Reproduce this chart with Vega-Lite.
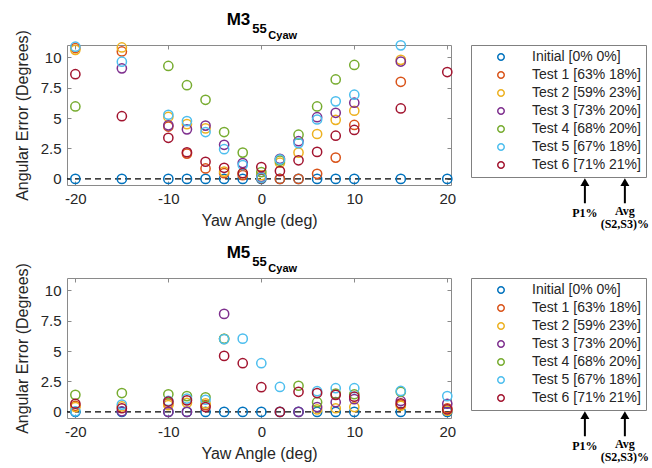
{
  "$schema": "https://vega.github.io/schema/vega-lite/v6.json",
  "autosize": {"type": "pad"},
  "padding": {"left": 13, "top": 10, "right": 2, "bottom": 2},
  "background": "white",
  "config": {
    "view": {"stroke": "#8a8a8a", "strokeWidth": 1},
    "axis": {"grid": false, "domain": false, "tickColor": "#8a8a8a", "tickSize": -4, "labelFont": "Liberation Sans", "titleFont": "Liberation Sans", "labelColor": "#262626", "titleColor": "#262626", "labelFontSize": 15, "titleFontSize": 16, "titleFontWeight": "normal"},
    "legend": {"orient": "right", "offset": 19, "strokeColor": "#808080", "padding": 5, "labelFont": "Liberation Sans", "labelFontSize": 14, "labelColor": "#262626", "rowPadding": 4, "symbolType": "circle", "symbolSize": 42, "symbolStrokeWidth": 1.5, "symbolOffset": 18, "labelOffset": 24, "titlePadding": 0}
  },
  "datasets": {
    "m3": [
      {"yaw": -20, "err": 0, "series": "Initial [0% 0%]"},
      {"yaw": -15, "err": 0, "series": "Initial [0% 0%]"},
      {"yaw": -10, "err": 0, "series": "Initial [0% 0%]"},
      {"yaw": -8, "err": 0, "series": "Initial [0% 0%]"},
      {"yaw": -6, "err": 0, "series": "Initial [0% 0%]"},
      {"yaw": -4, "err": 0, "series": "Initial [0% 0%]"},
      {"yaw": -2, "err": 0, "series": "Initial [0% 0%]"},
      {"yaw": 0, "err": 0, "series": "Initial [0% 0%]"},
      {"yaw": 2, "err": 0, "series": "Initial [0% 0%]"},
      {"yaw": 4, "err": 0, "series": "Initial [0% 0%]"},
      {"yaw": 6, "err": 0, "series": "Initial [0% 0%]"},
      {"yaw": 8, "err": 0, "series": "Initial [0% 0%]"},
      {"yaw": 10, "err": 0, "series": "Initial [0% 0%]"},
      {"yaw": 15, "err": 0, "series": "Initial [0% 0%]"},
      {"yaw": 20, "err": 0, "series": "Initial [0% 0%]"},
      {"yaw": -20, "err": 10.75, "series": "Test 1 [63% 18%]"},
      {"yaw": -15, "err": 10.47, "series": "Test 1 [63% 18%]"},
      {"yaw": -10, "err": 4.3, "series": "Test 1 [63% 18%]"},
      {"yaw": -8, "err": 2.08, "series": "Test 1 [63% 18%]"},
      {"yaw": -6, "err": 0.86, "series": "Test 1 [63% 18%]"},
      {"yaw": -4, "err": 0.47, "series": "Test 1 [63% 18%]"},
      {"yaw": -2, "err": 0.31, "series": "Test 1 [63% 18%]"},
      {"yaw": 0, "err": 0.05, "series": "Test 1 [63% 18%]"},
      {"yaw": 2, "err": 0.0, "series": "Test 1 [63% 18%]"},
      {"yaw": 4, "err": 0.0, "series": "Test 1 [63% 18%]"},
      {"yaw": 6, "err": 0.42, "series": "Test 1 [63% 18%]"},
      {"yaw": 8, "err": 1.75, "series": "Test 1 [63% 18%]"},
      {"yaw": 10, "err": 4.43, "series": "Test 1 [63% 18%]"},
      {"yaw": 15, "err": 7.98, "series": "Test 1 [63% 18%]"},
      {"yaw": -20, "err": 10.6, "series": "Test 2 [59% 23%]"},
      {"yaw": -15, "err": 10.8, "series": "Test 2 [59% 23%]"},
      {"yaw": -10, "err": 5.1, "series": "Test 2 [59% 23%]"},
      {"yaw": -8, "err": 4.5, "series": "Test 2 [59% 23%]"},
      {"yaw": -6, "err": 4.15, "series": "Test 2 [59% 23%]"},
      {"yaw": -4, "err": 0.6, "series": "Test 2 [59% 23%]"},
      {"yaw": -2, "err": 0.45, "series": "Test 2 [59% 23%]"},
      {"yaw": 0, "err": 0.3, "series": "Test 2 [59% 23%]"},
      {"yaw": 2, "err": 1.33, "series": "Test 2 [59% 23%]"},
      {"yaw": 4, "err": 2.16, "series": "Test 2 [59% 23%]"},
      {"yaw": 6, "err": 3.69, "series": "Test 2 [59% 23%]"},
      {"yaw": 8, "err": 4.85, "series": "Test 2 [59% 23%]"},
      {"yaw": 10, "err": 5.6, "series": "Test 2 [59% 23%]"},
      {"yaw": 15, "err": 9.78, "series": "Test 2 [59% 23%]"},
      {"yaw": -15, "err": 9.08, "series": "Test 3 [73% 20%]"},
      {"yaw": -10, "err": 4.4, "series": "Test 3 [73% 20%]"},
      {"yaw": -8, "err": 4.07, "series": "Test 3 [73% 20%]"},
      {"yaw": -6, "err": 4.38, "series": "Test 3 [73% 20%]"},
      {"yaw": -4, "err": 2.8, "series": "Test 3 [73% 20%]"},
      {"yaw": -2, "err": 1.3, "series": "Test 3 [73% 20%]"},
      {"yaw": 0, "err": 0.15, "series": "Test 3 [73% 20%]"},
      {"yaw": 2, "err": 1.65, "series": "Test 3 [73% 20%]"},
      {"yaw": 4, "err": 3.1, "series": "Test 3 [73% 20%]"},
      {"yaw": 6, "err": 5.07, "series": "Test 3 [73% 20%]"},
      {"yaw": 8, "err": 5.43, "series": "Test 3 [73% 20%]"},
      {"yaw": 10, "err": 6.26, "series": "Test 3 [73% 20%]"},
      {"yaw": 15, "err": 9.64, "series": "Test 3 [73% 20%]"},
      {"yaw": -20, "err": 5.95, "series": "Test 4 [68% 20%]"},
      {"yaw": -10, "err": 9.28, "series": "Test 4 [68% 20%]"},
      {"yaw": -8, "err": 7.7, "series": "Test 4 [68% 20%]"},
      {"yaw": -6, "err": 6.5, "series": "Test 4 [68% 20%]"},
      {"yaw": -4, "err": 3.85, "series": "Test 4 [68% 20%]"},
      {"yaw": -2, "err": 2.16, "series": "Test 4 [68% 20%]"},
      {"yaw": 0, "err": 0.56, "series": "Test 4 [68% 20%]"},
      {"yaw": 2, "err": 1.5, "series": "Test 4 [68% 20%]"},
      {"yaw": 4, "err": 3.63, "series": "Test 4 [68% 20%]"},
      {"yaw": 6, "err": 5.95, "series": "Test 4 [68% 20%]"},
      {"yaw": 8, "err": 8.17, "series": "Test 4 [68% 20%]"},
      {"yaw": 10, "err": 9.36, "series": "Test 4 [68% 20%]"},
      {"yaw": -20, "err": 10.86, "series": "Test 5 [67% 18%]"},
      {"yaw": -15, "err": 9.63, "series": "Test 5 [67% 18%]"},
      {"yaw": -10, "err": 5.27, "series": "Test 5 [67% 18%]"},
      {"yaw": -8, "err": 4.75, "series": "Test 5 [67% 18%]"},
      {"yaw": -6, "err": 3.85, "series": "Test 5 [67% 18%]"},
      {"yaw": -4, "err": 2.44, "series": "Test 5 [67% 18%]"},
      {"yaw": -2, "err": 1.14, "series": "Test 5 [67% 18%]"},
      {"yaw": 0, "err": 0.1, "series": "Test 5 [67% 18%]"},
      {"yaw": 2, "err": 1.6, "series": "Test 5 [67% 18%]"},
      {"yaw": 4, "err": 2.94, "series": "Test 5 [67% 18%]"},
      {"yaw": 6, "err": 4.88, "series": "Test 5 [67% 18%]"},
      {"yaw": 8, "err": 6.37, "series": "Test 5 [67% 18%]"},
      {"yaw": 10, "err": 6.92, "series": "Test 5 [67% 18%]"},
      {"yaw": 15, "err": 10.97, "series": "Test 5 [67% 18%]"},
      {"yaw": -20, "err": 8.6, "series": "Test 6 [71% 21%]"},
      {"yaw": -15, "err": 5.15, "series": "Test 6 [71% 21%]"},
      {"yaw": -10, "err": 3.38, "series": "Test 6 [71% 21%]"},
      {"yaw": -8, "err": 2.19, "series": "Test 6 [71% 21%]"},
      {"yaw": -6, "err": 1.41, "series": "Test 6 [71% 21%]"},
      {"yaw": -4, "err": 0.91, "series": "Test 6 [71% 21%]"},
      {"yaw": -2, "err": 0.47, "series": "Test 6 [71% 21%]"},
      {"yaw": 0, "err": 0.97, "series": "Test 6 [71% 21%]"},
      {"yaw": 2, "err": 0.64, "series": "Test 6 [71% 21%]"},
      {"yaw": 4, "err": 1.53, "series": "Test 6 [71% 21%]"},
      {"yaw": 6, "err": 2.22, "series": "Test 6 [71% 21%]"},
      {"yaw": 8, "err": 3.55, "series": "Test 6 [71% 21%]"},
      {"yaw": 10, "err": 4.02, "series": "Test 6 [71% 21%]"},
      {"yaw": 15, "err": 5.79, "series": "Test 6 [71% 21%]"},
      {"yaw": 20, "err": 8.78, "series": "Test 6 [71% 21%]"}
    ],
    "m5": [
      {"yaw": -20, "err": 0, "series": "Initial [0% 0%]"},
      {"yaw": -15, "err": 0, "series": "Initial [0% 0%]"},
      {"yaw": -10, "err": 0, "series": "Initial [0% 0%]"},
      {"yaw": -8, "err": 0, "series": "Initial [0% 0%]"},
      {"yaw": -6, "err": 0, "series": "Initial [0% 0%]"},
      {"yaw": -4, "err": 0, "series": "Initial [0% 0%]"},
      {"yaw": -2, "err": 0, "series": "Initial [0% 0%]"},
      {"yaw": 0, "err": 0, "series": "Initial [0% 0%]"},
      {"yaw": 2, "err": 0, "series": "Initial [0% 0%]"},
      {"yaw": 4, "err": 0, "series": "Initial [0% 0%]"},
      {"yaw": 6, "err": 0, "series": "Initial [0% 0%]"},
      {"yaw": 8, "err": 0, "series": "Initial [0% 0%]"},
      {"yaw": 10, "err": 0, "series": "Initial [0% 0%]"},
      {"yaw": 15, "err": 0, "series": "Initial [0% 0%]"},
      {"yaw": 20, "err": 0, "series": "Initial [0% 0%]"},
      {"yaw": -20, "err": 0.5, "series": "Test 1 [63% 18%]"},
      {"yaw": -10, "err": 0.7, "series": "Test 1 [63% 18%]"},
      {"yaw": -6, "err": 0.55, "series": "Test 1 [63% 18%]"},
      {"yaw": 15, "err": 0.6, "series": "Test 1 [63% 18%]"},
      {"yaw": 20, "err": 0.3, "series": "Test 1 [63% 18%]"},
      {"yaw": -20, "err": 0.4, "series": "Test 2 [59% 23%]"},
      {"yaw": -15, "err": 0.45, "series": "Test 2 [59% 23%]"},
      {"yaw": -10, "err": 0.55, "series": "Test 2 [59% 23%]"},
      {"yaw": -8, "err": 0.75, "series": "Test 2 [59% 23%]"},
      {"yaw": -6, "err": 0.7, "series": "Test 2 [59% 23%]"},
      {"yaw": -4, "err": 6.0, "series": "Test 2 [59% 23%]"},
      {"yaw": 6, "err": 0.2, "series": "Test 2 [59% 23%]"},
      {"yaw": 8, "err": 0.3, "series": "Test 2 [59% 23%]"},
      {"yaw": 10, "err": 0.4, "series": "Test 2 [59% 23%]"},
      {"yaw": 15, "err": 0.5, "series": "Test 2 [59% 23%]"},
      {"yaw": 20, "err": 0.1, "series": "Test 2 [59% 23%]"},
      {"yaw": -15, "err": 0.05, "series": "Test 3 [73% 20%]"},
      {"yaw": -10, "err": 0, "series": "Test 3 [73% 20%]"},
      {"yaw": -8, "err": 0, "series": "Test 3 [73% 20%]"},
      {"yaw": -4, "err": 8.05, "series": "Test 3 [73% 20%]"},
      {"yaw": 4, "err": 0, "series": "Test 3 [73% 20%]"},
      {"yaw": 6, "err": 0.4, "series": "Test 3 [73% 20%]"},
      {"yaw": 8, "err": 0.8, "series": "Test 3 [73% 20%]"},
      {"yaw": 10, "err": 1.05, "series": "Test 3 [73% 20%]"},
      {"yaw": 15, "err": 0.9, "series": "Test 3 [73% 20%]"},
      {"yaw": 20, "err": 0.67, "series": "Test 3 [73% 20%]"},
      {"yaw": -20, "err": 1.4, "series": "Test 4 [68% 20%]"},
      {"yaw": -15, "err": 1.55, "series": "Test 4 [68% 20%]"},
      {"yaw": -10, "err": 1.45, "series": "Test 4 [68% 20%]"},
      {"yaw": -8, "err": 1.3, "series": "Test 4 [68% 20%]"},
      {"yaw": -6, "err": 1.2, "series": "Test 4 [68% 20%]"},
      {"yaw": -4, "err": 6.0, "series": "Test 4 [68% 20%]"},
      {"yaw": 4, "err": 2.15, "series": "Test 4 [68% 20%]"},
      {"yaw": 6, "err": 0.8, "series": "Test 4 [68% 20%]"},
      {"yaw": 8, "err": 1.5, "series": "Test 4 [68% 20%]"},
      {"yaw": 10, "err": 1.45, "series": "Test 4 [68% 20%]"},
      {"yaw": 15, "err": 1.65, "series": "Test 4 [68% 20%]"},
      {"yaw": -20, "err": 0.05, "series": "Test 5 [67% 18%]"},
      {"yaw": -15, "err": 0.6, "series": "Test 5 [67% 18%]"},
      {"yaw": -10, "err": 0.9, "series": "Test 5 [67% 18%]"},
      {"yaw": -8, "err": 1.1, "series": "Test 5 [67% 18%]"},
      {"yaw": -6, "err": 1.0, "series": "Test 5 [67% 18%]"},
      {"yaw": -4, "err": 5.98, "series": "Test 5 [67% 18%]"},
      {"yaw": -2, "err": 6.02, "series": "Test 5 [67% 18%]"},
      {"yaw": 0, "err": 4.0, "series": "Test 5 [67% 18%]"},
      {"yaw": 2, "err": 2.05, "series": "Test 5 [67% 18%]"},
      {"yaw": 6, "err": 1.7, "series": "Test 5 [67% 18%]"},
      {"yaw": 8, "err": 1.95, "series": "Test 5 [67% 18%]"},
      {"yaw": 10, "err": 1.95, "series": "Test 5 [67% 18%]"},
      {"yaw": 15, "err": 1.72, "series": "Test 5 [67% 18%]"},
      {"yaw": 20, "err": 1.3, "series": "Test 5 [67% 18%]"},
      {"yaw": -20, "err": 0.67, "series": "Test 6 [71% 21%]"},
      {"yaw": -15, "err": 0.3, "series": "Test 6 [71% 21%]"},
      {"yaw": -10, "err": 0.85, "series": "Test 6 [71% 21%]"},
      {"yaw": -8, "err": 0.95, "series": "Test 6 [71% 21%]"},
      {"yaw": -6, "err": 0.4, "series": "Test 6 [71% 21%]"},
      {"yaw": -4, "err": 4.6, "series": "Test 6 [71% 21%]"},
      {"yaw": -2, "err": 4.0, "series": "Test 6 [71% 21%]"},
      {"yaw": 0, "err": 2.03, "series": "Test 6 [71% 21%]"},
      {"yaw": 2, "err": 0, "series": "Test 6 [71% 21%]"},
      {"yaw": 4, "err": 1.65, "series": "Test 6 [71% 21%]"},
      {"yaw": 6, "err": 1.55, "series": "Test 6 [71% 21%]"},
      {"yaw": 8, "err": 1.4, "series": "Test 6 [71% 21%]"},
      {"yaw": 10, "err": 1.25, "series": "Test 6 [71% 21%]"},
      {"yaw": 15, "err": 0.7, "series": "Test 6 [71% 21%]"},
      {"yaw": 20, "err": 0.2, "series": "Test 6 [71% 21%]"}
    ]
  },
  "resolve": {"scale": {"x": "independent", "y": "independent", "color": "independent"}, "legend": {"color": "independent"}},
  "spacing": 12,
  "vconcat": [
    {
      "width": 384, "height": 140,
      "resolve": {"axis": {"x": "independent", "y": "independent"}},
      "layer": [
        {
          "data": {"values": [{}]},
          "mark": {"type": "rule", "color": "black", "strokeDash": [6, 4], "strokeWidth": 1.3},
          "encoding": {"y": {"datum": 0, "type": "quantitative", "scale": {"domain": [-0.5, 11], "nice": false, "zero": false}, "axis": {"orient": "right", "values": [0, 2.5, 5, 7.5, 10], "labels": false, "title": null}}}
        },
        {
          "data": {"name": "m3"},
          "mark": {"type": "point", "shape": "circle", "filled": false, "size": 85, "strokeWidth": 1.5, "opacity": 1},
          "encoding": {
            "x": {"field": "yaw", "type": "quantitative", "scale": {"domain": [-20.9, 20.4], "nice": false, "zero": false}, "axis": {"orient": "bottom", "values": [-20, -10, 0, 10, 20], "labelExpr": "datum.value", "labelPadding": 10, "title": "Yaw Angle (deg)", "titlePadding": 6}},
            "y": {"field": "err", "type": "quantitative", "scale": {"domain": [-0.5, 11], "nice": false, "zero": false}, "axis": {"orient": "left", "values": [0, 2.5, 5, 7.5, 10], "labelExpr": "datum.value", "labelPadding": 10, "title": "Angular Error (Degrees)", "titlePadding": 10}},
            "color": {"field": "series", "type": "nominal", "scale": {"domain": ["Initial [0% 0%]", "Test 1 [63% 18%]", "Test 2 [59% 23%]", "Test 3 [73% 20%]", "Test 4 [68% 20%]", "Test 5 [67% 18%]", "Test 6 [71% 21%]"], "range": ["#0072BD", "#D95319", "#EDB120", "#7E2F8E", "#77AC30", "#4DBEEE", "#A2142F"]}, "legend": {"title": null}}
          }
        },
        {
          "data": {"values": [{}]},
          "mark": {"type": "text", "text": "M3", "font": "Liberation Sans", "fontWeight": "bold", "fontSize": 17, "align": "right", "baseline": "alphabetic", "dx": -11, "dy": -20, "color": "black", "clip": false},
          "encoding": {"x": {"datum": 0, "type": "quantitative", "scale": {"domain": [-20.9, 20.4], "nice": false, "zero": false}, "axis": {"orient": "top", "values": [-20, -10, 0, 10, 20], "labels": false, "title": null}}, "y": {"datum": 11, "type": "quantitative", "axis": null}}
        },
        {
          "data": {"values": [{}]},
          "mark": {"type": "text", "text": "55", "font": "Liberation Sans", "fontWeight": "bold", "fontSize": 13, "align": "left", "baseline": "alphabetic", "dx": -9, "dy": -12, "color": "black", "clip": false},
          "encoding": {"x": {"datum": 0, "type": "quantitative", "axis": null}, "y": {"datum": 11, "type": "quantitative", "axis": null}}
        },
        {
          "data": {"values": [{}]},
          "mark": {"type": "text", "text": "Cyaw", "font": "Liberation Sans", "fontWeight": "bold", "fontSize": 11, "align": "left", "baseline": "alphabetic", "dx": 7, "dy": -6, "color": "black", "clip": false},
          "encoding": {"x": {"datum": 0, "type": "quantitative", "axis": null}, "y": {"datum": 11, "type": "quantitative", "axis": null}}
        },
        {
          "data": {"values": [{}]},
          "mark": {"type": "rule", "color": "black", "strokeWidth": 2, "clip": false},
          "encoding": {"x": {"datum": 34.8, "type": "quantitative", "axis": null}, "y": {"datum": -0.55, "type": "quantitative", "axis": null}, "y2": {"datum": -2.0}}
        },
        {
          "data": {"values": [{}]},
          "mark": {"type": "rule", "color": "black", "strokeWidth": 2, "clip": false},
          "encoding": {"x": {"datum": 39.1, "type": "quantitative", "axis": null}, "y": {"datum": -0.55, "type": "quantitative", "axis": null}, "y2": {"datum": -2.0}}
        },
        {
          "data": {"values": [{}]},
          "mark": {"type": "point", "shape": "triangle-up", "filled": true, "size": 81, "color": "black", "opacity": 1, "clip": false},
          "encoding": {"x": {"datum": 34.8, "type": "quantitative", "axis": null}, "y": {"datum": -0.27, "type": "quantitative", "axis": null}}
        },
        {
          "data": {"values": [{}]},
          "mark": {"type": "point", "shape": "triangle-up", "filled": true, "size": 81, "color": "black", "opacity": 1, "clip": false},
          "encoding": {"x": {"datum": 39.1, "type": "quantitative", "axis": null}, "y": {"datum": -0.27, "type": "quantitative", "axis": null}}
        },
        {
          "data": {"values": [{}]},
          "mark": {"type": "text", "text": "P1%", "font": "Liberation Serif", "fontWeight": "bold", "fontSize": 12, "align": "center", "baseline": "alphabetic", "color": "black", "clip": false},
          "encoding": {"x": {"datum": 34.8, "type": "quantitative", "axis": null}, "y": {"datum": -3.1, "type": "quantitative", "axis": null}}
        },
        {
          "data": {"values": [{}]},
          "mark": {"type": "text", "text": ["Avg", "(S2,S3)%"], "lineHeight": 13, "font": "Liberation Serif", "fontWeight": "bold", "fontSize": 12, "align": "center", "baseline": "alphabetic", "color": "black", "clip": false},
          "encoding": {"x": {"datum": 39.1, "type": "quantitative", "axis": null}, "y": {"datum": -2.94, "type": "quantitative", "axis": null}}
        }
      ]
    },
    {
      "width": 384, "height": 140,
      "resolve": {"axis": {"x": "independent", "y": "independent"}},
      "layer": [
        {
          "data": {"values": [{}]},
          "mark": {"type": "rule", "color": "black", "strokeDash": [6, 4], "strokeWidth": 1.3},
          "encoding": {"y": {"datum": 0, "type": "quantitative", "scale": {"domain": [-0.5, 11], "nice": false, "zero": false}, "axis": {"orient": "right", "values": [0, 2.5, 5, 7.5, 10], "labels": false, "title": null}}}
        },
        {
          "data": {"name": "m5"},
          "mark": {"type": "point", "shape": "circle", "filled": false, "size": 85, "strokeWidth": 1.5, "opacity": 1},
          "encoding": {
            "x": {"field": "yaw", "type": "quantitative", "scale": {"domain": [-20.9, 20.4], "nice": false, "zero": false}, "axis": {"orient": "bottom", "values": [-20, -10, 0, 10, 20], "labelExpr": "datum.value", "labelPadding": 10, "title": "Yaw Angle (deg)", "titlePadding": 6}},
            "y": {"field": "err", "type": "quantitative", "scale": {"domain": [-0.5, 11], "nice": false, "zero": false}, "axis": {"orient": "left", "values": [0, 2.5, 5, 7.5, 10], "labelExpr": "datum.value", "labelPadding": 10, "title": "Angular Error (Degrees)", "titlePadding": 10}},
            "color": {"field": "series", "type": "nominal", "scale": {"domain": ["Initial [0% 0%]", "Test 1 [63% 18%]", "Test 2 [59% 23%]", "Test 3 [73% 20%]", "Test 4 [68% 20%]", "Test 5 [67% 18%]", "Test 6 [71% 21%]"], "range": ["#0072BD", "#D95319", "#EDB120", "#7E2F8E", "#77AC30", "#4DBEEE", "#A2142F"]}, "legend": {"title": null}}
          }
        },
        {
          "data": {"values": [{}]},
          "mark": {"type": "text", "text": "M5", "font": "Liberation Sans", "fontWeight": "bold", "fontSize": 17, "align": "right", "baseline": "alphabetic", "dx": -11, "dy": -20, "color": "black", "clip": false},
          "encoding": {"x": {"datum": 0, "type": "quantitative", "scale": {"domain": [-20.9, 20.4], "nice": false, "zero": false}, "axis": {"orient": "top", "values": [-20, -10, 0, 10, 20], "labels": false, "title": null}}, "y": {"datum": 11, "type": "quantitative", "axis": null}}
        },
        {
          "data": {"values": [{}]},
          "mark": {"type": "text", "text": "55", "font": "Liberation Sans", "fontWeight": "bold", "fontSize": 13, "align": "left", "baseline": "alphabetic", "dx": -9, "dy": -12, "color": "black", "clip": false},
          "encoding": {"x": {"datum": 0, "type": "quantitative", "axis": null}, "y": {"datum": 11, "type": "quantitative", "axis": null}}
        },
        {
          "data": {"values": [{}]},
          "mark": {"type": "text", "text": "Cyaw", "font": "Liberation Sans", "fontWeight": "bold", "fontSize": 11, "align": "left", "baseline": "alphabetic", "dx": 7, "dy": -6, "color": "black", "clip": false},
          "encoding": {"x": {"datum": 0, "type": "quantitative", "axis": null}, "y": {"datum": 11, "type": "quantitative", "axis": null}}
        },
        {
          "data": {"values": [{}]},
          "mark": {"type": "rule", "color": "black", "strokeWidth": 2, "clip": false},
          "encoding": {"x": {"datum": 34.8, "type": "quantitative", "axis": null}, "y": {"datum": -0.55, "type": "quantitative", "axis": null}, "y2": {"datum": -2.0}}
        },
        {
          "data": {"values": [{}]},
          "mark": {"type": "rule", "color": "black", "strokeWidth": 2, "clip": false},
          "encoding": {"x": {"datum": 39.1, "type": "quantitative", "axis": null}, "y": {"datum": -0.55, "type": "quantitative", "axis": null}, "y2": {"datum": -2.0}}
        },
        {
          "data": {"values": [{}]},
          "mark": {"type": "point", "shape": "triangle-up", "filled": true, "size": 81, "color": "black", "opacity": 1, "clip": false},
          "encoding": {"x": {"datum": 34.8, "type": "quantitative", "axis": null}, "y": {"datum": -0.27, "type": "quantitative", "axis": null}}
        },
        {
          "data": {"values": [{}]},
          "mark": {"type": "point", "shape": "triangle-up", "filled": true, "size": 81, "color": "black", "opacity": 1, "clip": false},
          "encoding": {"x": {"datum": 39.1, "type": "quantitative", "axis": null}, "y": {"datum": -0.27, "type": "quantitative", "axis": null}}
        },
        {
          "data": {"values": [{}]},
          "mark": {"type": "text", "text": "P1%", "font": "Liberation Serif", "fontWeight": "bold", "fontSize": 12, "align": "center", "baseline": "alphabetic", "color": "black", "clip": false},
          "encoding": {"x": {"datum": 34.8, "type": "quantitative", "axis": null}, "y": {"datum": -3.1, "type": "quantitative", "axis": null}}
        },
        {
          "data": {"values": [{}]},
          "mark": {"type": "text", "text": ["Avg", "(S2,S3)%"], "lineHeight": 13, "font": "Liberation Serif", "fontWeight": "bold", "fontSize": 12, "align": "center", "baseline": "alphabetic", "color": "black", "clip": false},
          "encoding": {"x": {"datum": 39.1, "type": "quantitative", "axis": null}, "y": {"datum": -2.94, "type": "quantitative", "axis": null}}
        }
      ]
    }
  ]
}
